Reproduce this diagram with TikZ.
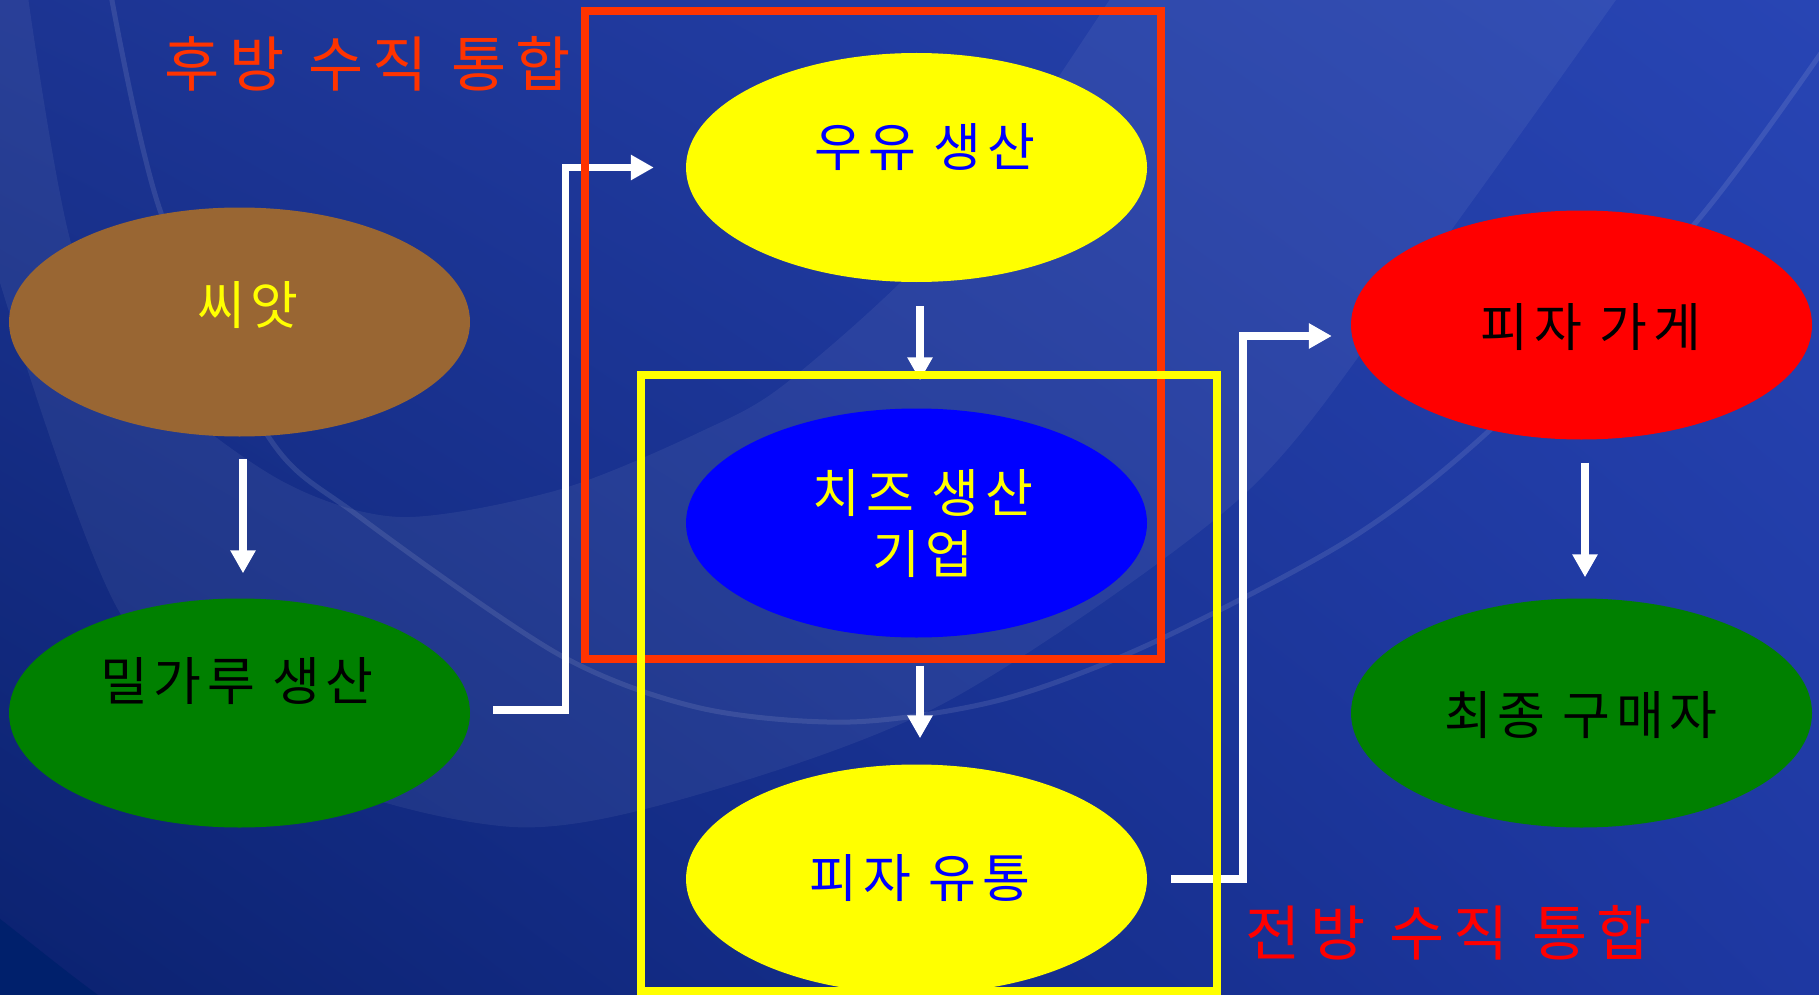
\documentclass[tikz,border=0pt]{standalone}
\usepackage{fontspec}
\newfontfamily\kr[LetterSpace=11]{Noto Sans CJK KR}
\newfontfamily\krbig[LetterSpace=16]{Noto Sans CJK KR}
\usetikzlibrary{shapes.geometric,arrows.meta,shadings}
\definecolor{bgUL}{HTML}{1C3492}
\definecolor{bgUR}{HTML}{2845B4}
\definecolor{bgLL}{HTML}{0B2270}
\definecolor{bgLR}{HTML}{1E38A2}
\definecolor{bgDark}{HTML}{00206C}
\definecolor{seedbrown}{HTML}{996633}
\definecolor{flourgreen}{HTML}{008000}
\definecolor{frameRed}{HTML}{FF3300}
\definecolor{yel}{HTML}{FFFF00}
\definecolor{blu}{HTML}{0000FF}
\definecolor{rd}{HTML}{FF0000}
\begin{document}
\begin{tikzpicture}[x=1pt,y=-1pt,
  ell/.style={ellipse,minimum width=461pt,minimum height=229pt,inner sep=0pt,draw=none},
  lab/.style={font=\kr\fontsize{52}{61}\selectfont,inner sep=0pt,align=center},
  biglab/.style={font=\krbig\fontsize{60}{70}\selectfont,inner sep=0pt},
  arr/.style={draw=white,line width=7.5pt,line join=miter,-{Triangle[length=23pt,width=24pt]}},
  framebox/.style={rectangle,line width=8pt,inner sep=0pt,fill=none}
]
\useasboundingbox (0,0) rectangle (1819,995);
\clip (0,0) rectangle (1819,995);
% background
\shade[upper left=bgUL, upper right=bgUR, lower left=bgLL, lower right=bgLR] (0,0) rectangle (1819,995);
\fill[white, opacity=0.06, even odd rule]
  (-10,-10) -- plot[smooth] coordinates {(1623,-10) (1400,300) (1238,500) (950,700) (700,794) (513,827) (300,770) (120,613) (-10,250)} -- cycle
  (27,-10) -- plot[smooth] coordinates {(27,-10) (73,250) (150,380) (280,480) (400,517) (558,490) (700,432) (790,380) (950,230) (1116,-10)} -- cycle;
\draw[white, opacity=0.1, line width=5pt] plot[smooth] coordinates {(111,-5) (161,213) (268,436) (357,515) (558,654) (700,708) (850,722) (1000,700) (1150,644) (1350,539) (1490,430) (1692,227) (1830,40)};
\fill[bgDark] (-5,915) .. controls (40,950) and (70,975) .. (105,1000) -- (-5,1000) -- cycle;

% ellipses
\node[ell, fill=seedbrown] (seed) at (239.5,322) {};
\node[ell, fill=flourgreen] (flour) at (239.5,713) {};
\node[ell, fill=yel] (milk) at (916.5,167.5) {};
\node[ell, fill=blu] (cheese) at (916.5,523) {};
\node[ell, fill=yel] (dist) at (916.5,879) {};
\node[ell, fill=rd] (shop) at (1581.5,325) {};
\node[ell, fill=flourgreen] (buyer) at (1581.5,713) {};

% texts
\node[lab, text=yel] (seedt) at (248,305) {씨앗};
\node[lab, text=black] (flourt) at (237,681) {밀가루 생산};
\node[lab, text=blu] (milkt) at (925,147) {우유 생산};
\node[lab, text=yel] (cheeset) at (923,523.5) {치즈 생산\\기업};
\node[lab, text=blu] (distt) at (920,878) {피자 유통};
\node[lab, text=black] (shopt) at (1591,327) {피자 가게};
\node[lab, text=black] (buyert) at (1581,715) {최종 구매자};
\node[biglab, text=frameRed] (backl) at (368,64) {후방 수직 통합};
\node[biglab, text=rd] (fwdl) at (1449,933) {전방 수직 통합};

% connectors
\draw[arr] ([xshift=3.5pt,yshift=-22pt]seed.south) -- ([xshift=3.5pt,yshift=25pt]flour.north);
\draw[arr] ([xshift=3.5pt,yshift=-24pt]milk.south) -- ([xshift=3.5pt,yshift=28pt]cheese.north);
\draw[arr] ([xshift=3.5pt,yshift=-28pt]cheese.south) -- ([xshift=3.5pt,yshift=26pt]dist.north);
\draw[arr] ([xshift=3.5pt,yshift=-23pt]shop.south) -- ([xshift=3.5pt,yshift=21pt]buyer.north);
\draw[arr] ([xshift=23pt,yshift=3pt]flour.east) -- ++(72.5,0) |- ([xshift=-32pt]milk.west);
\draw[arr] ([xshift=24pt]dist.east) -- ++(72,0) |- ([xshift=-19pt,yshift=-11pt]shop.west);

% frames
\node[framebox, draw=frameRed, minimum width=576pt, minimum height=648pt] (backframe) at (873,335) {};
\node[framebox, draw=yel, minimum width=576pt, minimum height=616pt] (fwdframe) at (929,683) {};
\end{tikzpicture}
\end{document}
